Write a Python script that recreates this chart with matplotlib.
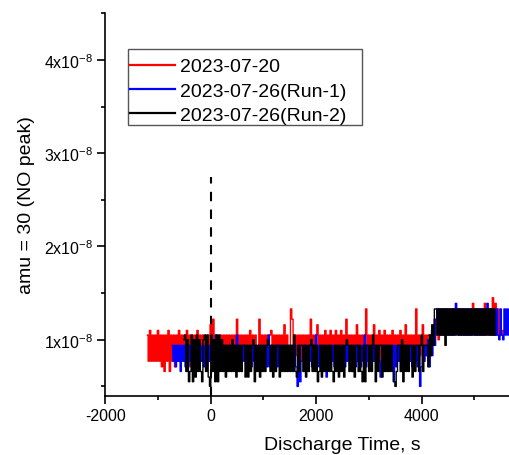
import numpy as np
import matplotlib
matplotlib.use("Agg")
import matplotlib.pyplot as plt
from matplotlib.ticker import FixedLocator, FuncFormatter
from matplotlib.patches import Rectangle

plt.rcParams['font.family'] = ['Liberation Sans', 'DejaVu Sans']
plt.rcParams['mathtext.fontset'] = 'custom'
plt.rcParams['mathtext.rm'] = 'Liberation Sans'
plt.rcParams['mathtext.it'] = 'Liberation Sans'
plt.rcParams['mathtext.default'] = 'regular'
plt.rcParams['path.simplify'] = False

# ---- data -------------------------------------------------------------
# quantised signal levels (units of 1e-8), indexed by the code characters
LEVEL_CODES = "0123456789abcdefgh"
LEVELS = [0.50, 0.55, 0.60, 0.66, 0.71, 0.77, 0.83, 0.88, 0.94, 1.00,
          1.05, 1.10, 1.16, 1.22, 1.28, 1.33, 1.39, 1.45]

LABELS = ["2023-07-20", "2023-07-26(Run-1)", "2023-07-26(Run-2)"]
COLORS = ["#ff0000", "#0000ff", "#000000"]

# (segment start s, segment end s, sampled level codes)
RED_SEGMENTS = [
    (-1200, -100, "a5b5a5a5b5a4a3a5b3a5a4a5b5a5a5b5a4a5a5b5a5a5"),
    (-100, 4150, "a5a6c5d5a6" "a5a5a6a5a5" "a5a6d5a5a6" "a5a5b5a6a5" "5d6a5a6a5a"
                 "b5a6a5a5a6" "c5a65fd5a6" "a5a5a6a5a5" "d5a6ac5a6a" "5b5a6b5a5b"
                 "6a5b5a6d5a" "5a6a5c5a6a" "5af5a6a5c5" "a6b5a5b6a5" "a5b5a6a5b5"
                 "a6c5a5a6a5" "f5a6ac5a6a"),
    (4150, 4400, "a6b8daf9fa"),
    (4400, 5580, "fafbfafafa" "fbfafafafa" "fafgfafafa" "fagafafaha" "gafabab"),
]
BLUE_SEGMENTS = [
    (-730, -500, "8584858385"),
    (-500, 4000, "8484858384" "8485848485" "8485a48584" "8485848485" "a484858485"
                 "8485848584" "8584a48584" "8485848485" "8485840815" "8484858485"
                 "a484858428" "4858485848" "5848584838" "4858485a48" "5848584852"
                 "8485848581" "8485848584" "8584858480"),
    (4000, 4330, "4858694a6b8df"),
    (4330, 5700, "fafafafafa" "fafgfafafa" "fafafafafa" "fafafafgfa" "fafafa9fa9"
                 "fafaf"),
]
BLACK_SEGMENTS = [
    (-510, 4130, "9a3913a192" "a39319a3a2" "0a391a1a39" "3828383938" "2838388282"
                 "8389183828" "3838983828" "3882838383" "8383a32838" "8382838938"
                 "3813828383" "8383183828" "3828983838" "2883831818" "8383a81838"
                 "8283838383" "1038839183" "8388283883" "8a3888"),
    (4130, 4280, "4a6c8f"),
    (4280, 5430, "fafafaf8fa" "fafafafafa" "fafafafafa" "fafafafafa" "fafafa"),
]

DISCHARGE_START = 0          # s, dashed marker
MARKER_TOP = 2.75e-8

X_TICKS = [-2000, 0, 2000, 4000]
Y_TICKS = [1e-8, 2e-8, 3e-8, 4e-8]


def decode(segments):
    xs, ys = [], []
    for t0, t1, codes in segments:
        n = len(codes)
        xs.append(np.linspace(t0, t1, n, endpoint=False))
        ys.append(np.array([LEVELS[LEVEL_CODES.index(c)] for c in codes]) * 1e-8)
    return np.concatenate(xs), np.concatenate(ys)


# ---- figure -----------------------------------------------------------
W, H = 510, 456
fig = plt.figure(figsize=(W / 100, H / 100), dpi=100)
ax_l, ax_r, ax_b, ax_t = 105.3, 579.7, 396.7, 14.3
ax = fig.add_axes([ax_l / W, 1 - ax_b / H, (ax_r - ax_l) / W, (ax_b - ax_t) / H])

ax.plot([DISCHARGE_START, DISCHARGE_START], [0.4e-8, MARKER_TOP], color='black',
        lw=1.5, linestyle=(0, (4.5, 4.0)), zorder=1)

for segs, lab, col in zip([RED_SEGMENTS, BLUE_SEGMENTS, BLACK_SEGMENTS], LABELS, COLORS):
    x, y = decode(segs)
    ln, = ax.plot(x, y, color=col, lw=1.0, label=lab, zorder=2, drawstyle='steps-mid')
    ln.set_snap(False)

ax.set_xlim(-2000, 7000)
ax.set_ylim(0.4e-8, 4.5e-8)

ax.xaxis.set_major_locator(FixedLocator(X_TICKS))
ax.xaxis.set_minor_locator(FixedLocator([-1000, 1000, 3000, 5000]))
ax.yaxis.set_major_locator(FixedLocator(Y_TICKS))
ax.yaxis.set_minor_locator(FixedLocator([0.5e-8, 1.5e-8, 2.5e-8, 3.5e-8, 4.5e-8]))
ax.yaxis.set_major_formatter(FuncFormatter(lambda v, p: r"%dx10$^{-8}$" % round(v * 1e8)))
ax.xaxis.set_major_formatter(FuncFormatter(lambda v, p: "%d" % v))

ax.tick_params(which='major', direction='out', length=6, width=1.2, labelsize=11.5,
               pad=3)
ax.tick_params(which='minor', direction='out', length=3, width=1.2)
for s in ['top', 'right']:
    ax.spines[s].set_visible(False)
for s in ['left', 'bottom']:
    ax.spines[s].set_linewidth(1.2)

fig.text((105.3 + 579.7) / 2 / W, 1 - 446 / H, "Discharge Time, s", fontsize=14,
         ha='center', va='center')
fig.text(27 / W, 1 - 205.5 / H, "amu = 30 (NO peak)", fontsize=14, rotation=90,
         ha='center', va='center')

frame = Rectangle((128 / W, 1 - 126 / H), (362 - 128) / W, (126 - 50) / H,
                  transform=fig.transFigure, facecolor='white',
                  edgecolor='#555555', lw=1.0, zorder=4.5, clip_on=False)
ax.add_patch(frame)
leg = ax.legend(loc='upper left', bbox_to_anchor=(125 / W, 1 - 54 / H),
                bbox_transform=fig.transFigure, fontsize=14, frameon=False,
                handlelength=2.3, handletextpad=0.3,
                labelspacing=0.34, borderpad=0.25, borderaxespad=0)
leg.set_zorder(6)
for ln in leg.get_lines():
    ln.set_linewidth(1.6)
    ln.set_drawstyle('default')

fig.savefig("out.png", dpi=100)
